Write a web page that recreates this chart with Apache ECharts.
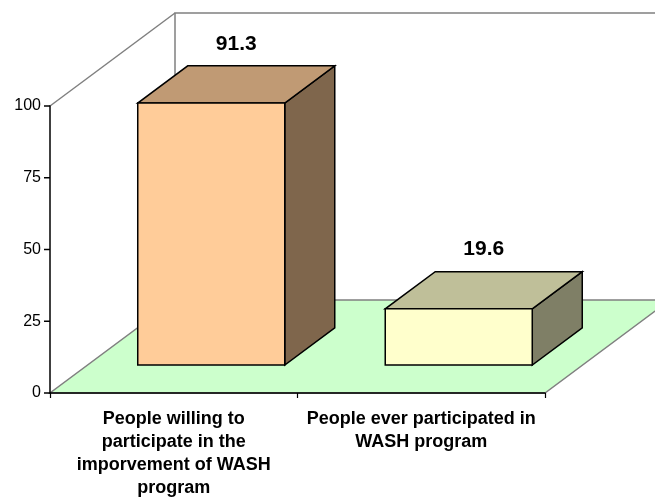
<!DOCTYPE html>
<html>
<head>
<meta charset="utf-8">
<script src="https://cdn.jsdelivr.net/npm/echarts@6/dist/echarts.min.js"></script>
<style>
  html, body { margin: 0; padding: 0; background: #ffffff; }
  #chart { width: 655px; height: 500px; }
</style>
</head>
<body>
<div id="chart"></div>
<script>
// Category labels (line breaks as printed under the axis)
const categories = [
  'People willing to\nparticipate in the\nimporvement of WASH\nprogram',
  'People ever participated in\nWASH program'
];
// Percentages per category
const values = [91.3, 19.6];
// Face colours per bar: front, top, side
const frontColors = ['#FFCC99', '#FFFFCC'];
const topColors = ['#C09A74', '#BFBF99'];
const sideColors = ['#7F664C', '#7F7F66'];
// Value axis ticks
const yMin = 0, yMax = 100, yStep = 25;
const yTicks = [0, 25, 50, 75, 100];

// Oblique depth of the 3-D box (pixels from front plane to back wall)
const DEPTH_X = 125, DEPTH_Y = -93;
const BAR_FRONT = 0.30, BAR_BACK = 0.70, BAR_WIDTH = 0.594;
const TICK_LEN = 6;
const FONT = 'Arial, "Liberation Sans", sans-serif';

const chart = echarts.init(document.getElementById('chart'), null, { renderer: 'canvas' });

function renderFrame(params, api) {
  const cs = params.coordSys;
  const x = cs.x, y = cs.y, w = cs.width, h = cs.height;
  const bottom = y + h;
  const grey = { stroke: '#808080', lineWidth: 1.5, fill: null };
  const children = [
    { // floor
      type: 'polygon',
      shape: { points: [[x, bottom], [x + w, bottom], [x + w + DEPTH_X, bottom + DEPTH_Y], [x + DEPTH_X, bottom + DEPTH_Y]] },
      style: { fill: '#CCFFCC', stroke: '#808080', lineWidth: 1.5 }
    },
    { // back wall edges
      type: 'polyline',
      shape: { points: [[x + DEPTH_X, bottom + DEPTH_Y], [x + DEPTH_X, y + DEPTH_Y], [x + w + DEPTH_X + 20, y + DEPTH_Y]] },
      style: grey
    },
    { // side wall top edge
      type: 'line',
      shape: { x1: x, y1: y, x2: x + DEPTH_X, y2: y + DEPTH_Y },
      style: grey
    }
  ];
  // outward tick marks on the value axis
  yTicks.forEach(function (v) {
    const ty = api.coord([0, v])[1];
    children.push({
      type: 'polyline',
      shape: { points: [[x - TICK_LEN, ty], [x, ty]] },
      style: { stroke: '#000000', lineWidth: 1.5, fill: null }
    });
  });
  return { type: 'group', children: children };
}

function renderBar(params, api) {
  const idx = api.value(0);
  const val = api.value(1);
  const base = api.coord([idx, 0]);
  const topPt = api.coord([idx, val]);
  const band = api.size([1, 0])[0];
  const bw = band * BAR_WIDTH;
  const fx = DEPTH_X * BAR_FRONT, fy = DEPTH_Y * BAR_FRONT;
  const bx = DEPTH_X * BAR_BACK, by = DEPTH_Y * BAR_BACK;
  const l = base[0] - bw / 2, r = base[0] + bw / 2;
  const yb = base[1], yt = topPt[1];
  const FL = [l + fx, yt + fy], FR = [r + fx, yt + fy];
  const BL = [l + bx, yt + by], BR = [r + bx, yt + by];
  const FRb = [r + fx, yb + fy], BRb = [r + bx, yb + by];
  const edge = { stroke: '#000000', lineWidth: 1.5, lineJoin: 'miter' };
  const i = params.dataIndex;
  return {
    type: 'group',
    children: [
      { type: 'polygon', shape: { points: [FR, BR, BRb, FRb] }, style: Object.assign({ fill: sideColors[i] }, edge) },
      { type: 'polygon', shape: { points: [FL, FR, BR, BL] }, style: Object.assign({ fill: topColors[i] }, edge) },
      { type: 'rect', shape: { x: l + fx, y: yt + fy, width: bw, height: yb - yt }, style: Object.assign({ fill: frontColors[i] }, edge) },
      {
        type: 'text',
        x: base[0] + (fx + bx) / 2,
        y: yt + by - 22,
        style: {
          text: String(val),
          fill: '#000000',
          font: 'bold 21px ' + FONT,
          align: 'center',
          verticalAlign: 'middle'
        }
      }
    ]
  };
}

chart.setOption({
  backgroundColor: '#ffffff',
  animation: false,
  grid: { left: 50, right: 110, top: 106, bottom: 107, containLabel: false },
  xAxis: {
    type: 'category',
    data: categories,
    boundaryGap: true,
    z: 10,
    axisLine: { show: true, lineStyle: { color: '#000000', width: 1.5 } },
    axisTick: { show: true, length: 5, alignWithLabel: false, lineStyle: { color: '#000000', width: 1.2 } },
    axisLabel: {
      interval: 0,
      margin: 15,
      color: '#000000',
      fontFamily: FONT,
      fontWeight: 'bold',
      fontSize: 18,
      lineHeight: 23,
      align: 'center'
    },
    splitLine: { show: false }
  },
  yAxis: {
    type: 'value',
    min: yMin,
    max: yMax,
    interval: yStep,
    z: 10,
    axisLine: { show: true, lineStyle: { color: '#000000', width: 1.5 } },
    axisTick: { show: false },
    axisLabel: { color: '#000000', fontFamily: FONT, fontSize: 16, margin: 9 },
    splitLine: { show: false }
  },
  series: [
    {
      type: 'custom',
      name: 'frame',
      renderItem: renderFrame,
      data: [[0, 0]],
      z: 1,
      silent: true
    },
    {
      type: 'custom',
      name: 'bars',
      renderItem: renderBar,
      data: values.map((v, i) => [i, v]),
      encode: { x: 0, y: 1 },
      z: 2
    }
  ]
});
</script>
</body>
</html>
